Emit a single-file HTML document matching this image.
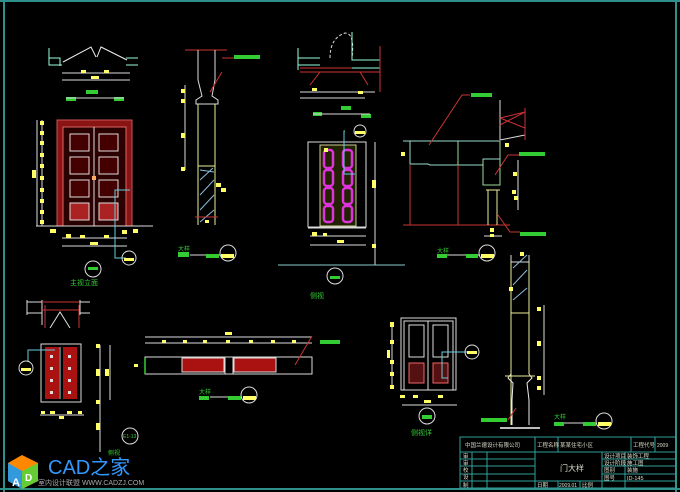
<!DOCTYPE html>
<html><head><meta charset="utf-8"><style>
html,body{margin:0;padding:0;background:#000;}
svg{display:block;}
text{font-family:"Liberation Sans","Noto Sans CJK SC",sans-serif;}
</style></head><body>
<svg width="680" height="492" viewBox="0 0 680 492" xmlns="http://www.w3.org/2000/svg">
<rect width="680" height="492" fill="#000"/>
<g fill="none" stroke="#2f8f8a" stroke-width="2">
<line x1="0" y1="1" x2="680" y2="1"/>
<line x1="4" y1="0" x2="4" y2="492"/>
<line x1="676" y1="0" x2="676" y2="492"/>
<line x1="0" y1="489" x2="680" y2="489"/>
</g>

<g fill="none" stroke-width="1">
<path d="M49,48 V65 H62 M49,58 H60 V66" stroke="#9fd"/>
<path d="M63,62 L91,47 L96,57 M97,57 L101,47 L127,60" stroke="#eee"/>
<path d="M126,58 H138 M126,65 H138" stroke="#9fd"/>
<line x1="62" y1="73" x2="130" y2="73" stroke="#ddd"/>
<line x1="62" y1="80" x2="130" y2="80" stroke="#ddd"/>
</g>
<g fill="#ff6">
<rect x="81" y="70" width="5" height="3"/><rect x="104" y="70" width="5" height="3"/><rect x="91" y="76" width="8" height="3"/>
</g>
<rect x="86" y="90" width="12" height="4" fill="#3c3"/>
<rect x="66" y="97" width="10" height="4" fill="#3c3"/><rect x="114" y="97" width="10" height="4" fill="#3c3"/>
<line x1="66" y1="98" x2="124" y2="98" stroke="#ddd"/>

<rect x="57" y="120" width="75" height="106" fill="#8a1414" stroke="#c55"/>
<rect x="63" y="127" width="63" height="99" fill="#2a0000" stroke="#d66"/>
<g fill="#400" stroke="#ddd" stroke-width="1">
<rect x="70" y="134" width="19" height="17"/><rect x="99" y="134" width="19" height="17"/>
<rect x="70" y="157" width="19" height="17"/><rect x="99" y="157" width="19" height="17"/>
<rect x="70" y="180" width="19" height="17"/><rect x="99" y="180" width="19" height="17"/>
<rect x="70" y="203" width="19" height="17" fill="#a22"/><rect x="99" y="203" width="19" height="17" fill="#a22"/>
</g>
<line x1="94" y1="127" x2="94" y2="226" stroke="#ddd"/>
<rect x="92" y="176" width="4" height="4" fill="#fa6"/>
<g fill="none" stroke="#ddd">
<line x1="37" y1="120" x2="37" y2="226"/><line x1="42" y1="120" x2="42" y2="226"/>
<line x1="36" y1="226" x2="153" y2="226"/>
<line x1="62" y1="238" x2="127" y2="238"/><line x1="62" y1="246" x2="127" y2="246"/>
</g>
<g fill="#ff6">
<rect x="40" y="121" width="4" height="4"/><rect x="40" y="131" width="4" height="4"/><rect x="40" y="141" width="4" height="4"/><rect x="40" y="153" width="4" height="4"/><rect x="40" y="164" width="4" height="4"/><rect x="40" y="176" width="4" height="4"/><rect x="40" y="188" width="4" height="4"/><rect x="40" y="199" width="4" height="4"/><rect x="40" y="210" width="4" height="4"/><rect x="40" y="220" width="4" height="4"/>
<rect x="32" y="170" width="4" height="8"/>
<rect x="50" y="229" width="6" height="4"/><rect x="66" y="234" width="5" height="4"/><rect x="80" y="235" width="5" height="3"/><rect x="104" y="235" width="5" height="3"/><rect x="122" y="230" width="5" height="4"/><rect x="133" y="229" width="5" height="4"/>
<rect x="90" y="242" width="8" height="3"/>
</g>
<path d="M130,190 H115 V258 H126" fill="none" stroke="#6cd"/>
<circle cx="129" cy="258" r="7" fill="none" stroke="#ddd"/>
<rect x="124" y="258" width="10" height="3" fill="#ff6"/>
<circle cx="93" cy="269" r="8" fill="none" stroke="#ddd"/>
<rect x="88" y="267" width="10" height="3" fill="#3c3"/>
<text x="70" y="285" font-size="7" fill="#3c3">主视立面</text>

<g fill="none" stroke-width="1">
<line x1="185" y1="50" x2="227" y2="50" stroke="#c33"/>
<path d="M198,50 V80 L202,96 L196,100 V104 H218 V100 L212,96 L215,80 V50" stroke="#ddd"/>
<path d="M198,104 V225 M215,104 V225" stroke="#ee9"/>
<line x1="198" y1="166" x2="215" y2="166" stroke="#ee9"/>
<path d="M200,170 L214,172 M200,180 L213,168 M200,195 L214,180 M200,210 L214,195 M200,222 L214,210" stroke="#8bd"/>
<line x1="195" y1="217" x2="218" y2="217" stroke="#c33"/>
<line x1="185" y1="85" x2="185" y2="170" stroke="#ddd"/>
<path d="M222,72 L210,92" stroke="#c33"/>
<line x1="222" y1="58" x2="235" y2="58" stroke="#c33"/>
</g>
<rect x="234" y="55" width="26" height="4" fill="#3c3"/>
<g fill="#ff6"><rect x="181" y="89" width="4" height="4"/><rect x="181" y="99" width="4" height="4"/><rect x="181" y="133" width="4" height="5"/><rect x="181" y="167" width="4" height="4"/><rect x="216" y="183" width="5" height="4"/><rect x="221" y="188" width="5" height="4"/><rect x="205" y="220" width="4" height="3"/></g>
<circle cx="228" cy="253" r="8" fill="none" stroke="#ddd"/>
<rect x="221" y="254" width="13" height="4" fill="#ff6"/>
<line x1="190" y1="255" x2="220" y2="255" stroke="#ddd"/>
<rect x="178" y="252" width="11" height="5" fill="#3c3"/><rect x="206" y="254" width="13" height="4" fill="#3c3"/>
<text x="178" y="251" font-size="6" fill="#3c3">大样</text>

<g fill="none" stroke-width="1">
<path d="M330,58 Q330,38 345,33 Q355,33 352,58" stroke="#ddd" stroke-dasharray="3,2"/>
<path d="M298,48 V70 M298,58 H320 M298,65 H320" stroke="#9fd"/>
<path d="M300,68 H380 M300,72 H380" stroke="#c33"/>
<path d="M310,85 L320,72 M368,85 L360,72" stroke="#c33"/>
<path d="M352,32 V60 H380 M352,68 H380" stroke="#9fd"/>
<line x1="380" y1="46" x2="380" y2="92" stroke="#c33"/>
<line x1="300" y1="92" x2="375" y2="92" stroke="#ddd"/>
<line x1="300" y1="98" x2="365" y2="98" stroke="#ddd"/>
</g>
<rect x="312" y="88" width="5" height="3" fill="#ff6"/><rect x="358" y="91" width="5" height="3" fill="#ff6"/>
<rect x="313" y="112" width="9" height="4" fill="#3c3"/><rect x="341" y="106" width="10" height="4" fill="#3c3"/><rect x="361" y="114" width="10" height="4" fill="#3c3"/>
<line x1="313" y1="114" x2="370" y2="114" stroke="#ddd"/>
<circle cx="360" cy="131" r="6" fill="none" stroke="#ddd"/><rect x="355" y="131" width="10" height="3" fill="#ff6"/>
<rect x="308" y="142" width="58" height="85" fill="none" stroke="#ddd"/>
<rect x="320" y="145" width="36" height="81" fill="#220" stroke="#cc9"/>
<g fill="none" stroke="#d3d" stroke-width="2.5">
<rect x="324" y="150" width="9" height="18" rx="3"/><rect x="343" y="150" width="9" height="18" rx="3"/>
<rect x="324" y="170" width="9" height="16" rx="3"/><rect x="343" y="170" width="9" height="16" rx="3"/>
<rect x="324" y="188" width="9" height="16" rx="3"/><rect x="343" y="188" width="9" height="16" rx="3"/>
<rect x="324" y="206" width="9" height="16" rx="3"/><rect x="343" y="206" width="9" height="16" rx="3"/>
</g>
<path d="M345,131 H344 V174 H355" fill="none" stroke="#6cd"/>
<line x1="375" y1="142" x2="375" y2="265" stroke="#ddd"/>
<line x1="308" y1="228" x2="366" y2="228" stroke="#ddd"/>
<line x1="310" y1="236" x2="366" y2="236" stroke="#ddd"/>
<line x1="310" y1="245" x2="366" y2="245" stroke="#ddd"/>
<g fill="#ff6"><rect x="312" y="232" width="5" height="4"/><rect x="323" y="233" width="4" height="3"/><rect x="337" y="240" width="7" height="3"/><rect x="372" y="180" width="4" height="8"/><rect x="372" y="244" width="4" height="4"/><rect x="324" y="148" width="4" height="4"/></g>
<line x1="278" y1="265" x2="405" y2="265" stroke="#8cc"/>
<circle cx="335" cy="276" r="8" fill="none" stroke="#ddd"/>
<rect x="330" y="276" width="10" height="3" fill="#3c3"/>
<text x="310" y="298" font-size="7" fill="#3c3">侧视</text>

<g fill="none" stroke-width="1">
<path d="M403,141 H500 M410,141 V164 H428 L430,165 H483 V159 H500" stroke="#9dc"/>
<path d="M458,141 V165" stroke="#9d9"/>
<path d="M483,160 V185 H500 V141" stroke="#9d9"/>
<path d="M410,165 V225 M458,165 V225 M403,225 H510" stroke="#c33"/>
<path d="M488,190 V225 M497,190 V225 M486,190 H500" stroke="#ee9"/>
<path d="M429,145 L462,95 H470" stroke="#c33"/>
<path d="M500,100 V140 M500,140 L525,135" stroke="#ddd"/>
<path d="M500,125 L525,112 L500,118 L525,128" stroke="#c33"/>
<line x1="525" y1="108" x2="525" y2="140" stroke="#c33"/>
<path d="M495,175 L508,155 H520" stroke="#c33"/>
<path d="M498,215 L510,232 H520" stroke="#c33"/>
<line x1="518" y1="160" x2="518" y2="210" stroke="#ddd"/>
<path d="M484,236 H502" stroke="#ddd"/>
</g>
<rect x="471" y="93" width="21" height="4" fill="#3c3"/>
<rect x="519" y="152" width="26" height="4" fill="#3c3"/>
<rect x="520" y="232" width="26" height="4" fill="#3c3"/>
<g fill="#ff6"><rect x="401" y="152" width="4" height="4"/><rect x="513" y="172" width="4" height="4"/><rect x="512" y="190" width="4" height="4"/><rect x="514" y="196" width="4" height="4"/><rect x="490" y="228" width="4" height="4"/><rect x="490" y="234" width="4" height="3"/><rect x="505" y="143" width="4" height="4"/></g>
<circle cx="487" cy="253" r="8" fill="none" stroke="#ddd"/>
<rect x="481" y="254" width="13" height="4" fill="#ff6"/>
<line x1="438" y1="255" x2="480" y2="255" stroke="#ddd"/>
<rect x="437" y="254" width="10" height="4" fill="#3c3"/><rect x="466" y="254" width="12" height="4" fill="#3c3"/>
<text x="437" y="253" font-size="6" fill="#3c3">大样</text>

<g fill="none" stroke-width="1">
<path d="M27,300 V315 M27,302 H42 M27,313 H42 V300 M42,300 V325" stroke="#ddd"/>
<path d="M42,302 H80 M42,310 H80" stroke="#c33"/>
<path d="M45,305 V328 M79,305 V328" stroke="#c33"/>
<path d="M50,328 L60,312 L70,328" stroke="#ddd"/>
<path d="M80,300 V315 M80,302 H90 M80,313 H90" stroke="#ddd"/>
</g>
<rect x="41" y="344" width="40" height="58" fill="none" stroke="#ddd"/>
<rect x="45" y="347" width="14" height="52" fill="#a11"/><rect x="63" y="347" width="14" height="52" fill="#a11"/>
<line x1="60" y1="347" x2="60" y2="399" stroke="#9dd"/>
<g fill="#ddd"><rect x="50" y="355" width="3" height="3"/><rect x="50" y="367" width="3" height="3"/><rect x="50" y="379" width="3" height="3"/><rect x="50" y="391" width="3" height="3"/><rect x="68" y="355" width="3" height="3"/><rect x="68" y="367" width="3" height="3"/><rect x="68" y="379" width="3" height="3"/><rect x="68" y="391" width="3" height="3"/></g>
<path d="M55,350 H28 V362" fill="none" stroke="#6cd"/>
<circle cx="26" cy="368" r="7" fill="none" stroke="#ddd"/><rect x="21" y="368" width="10" height="3" fill="#ff6"/>
<line x1="40" y1="415" x2="84" y2="415" stroke="#ddd"/>
<g fill="#ff6"><rect x="41" y="411" width="4" height="3"/><rect x="50" y="411" width="5" height="3"/><rect x="59" y="416" width="5" height="3"/><rect x="67" y="411" width="5" height="3"/><rect x="78" y="411" width="4" height="3"/></g>
<g fill="none" stroke="#ddd"><line x1="100" y1="345" x2="100" y2="452"/><line x1="110" y1="345" x2="110" y2="400"/></g>
<g fill="#ff6"><rect x="96" y="344" width="4" height="4"/><rect x="96" y="369" width="4" height="7"/><rect x="105" y="369" width="4" height="7"/><rect x="96" y="400" width="4" height="4"/><rect x="96" y="423" width="4" height="7"/></g>
<circle cx="130" cy="436" r="8" fill="none" stroke="#ddd"/>
<text x="123" y="438" font-size="5" fill="#3c3">E1-13</text>
<text x="108" y="455" font-size="6" fill="#3c3">侧视</text>

<g fill="none" stroke="#ddd">
<line x1="145" y1="337" x2="312" y2="337"/><line x1="145" y1="343" x2="312" y2="343"/>
<rect x="145" y="357" width="167" height="17"/>
</g>
<rect x="182" y="358" width="42" height="14" fill="#a11" stroke="#ddd"/>
<rect x="234" y="358" width="42" height="14" fill="#a11" stroke="#ddd"/>
<line x1="225" y1="357" x2="225" y2="374" stroke="#ddd"/><line x1="233" y1="357" x2="233" y2="374" stroke="#ddd"/>
<line x1="145" y1="358" x2="145" y2="374" stroke="#3c3" stroke-width="1.5"/>
<line x1="295" y1="365" x2="312" y2="336" stroke="#c33"/>
<rect x="320" y="340" width="20" height="4" fill="#3c3"/>
<g fill="#ff6"><rect x="225" y="332" width="7" height="3"/><rect x="162" y="340" width="4" height="3"/><rect x="183" y="340" width="4" height="3"/><rect x="203" y="340" width="4" height="3"/><rect x="226" y="340" width="4" height="3"/><rect x="249" y="340" width="4" height="3"/><rect x="271" y="340" width="4" height="3"/><rect x="292" y="340" width="4" height="3"/><rect x="134" y="364" width="4" height="3"/></g>
<circle cx="249" cy="395" r="8" fill="none" stroke="#ddd"/><rect x="243" y="396" width="13" height="4" fill="#ff6"/>
<line x1="210" y1="397" x2="242" y2="397" stroke="#ddd"/>
<rect x="199" y="396" width="10" height="4" fill="#3c3"/><rect x="228" y="396" width="13" height="4" fill="#3c3"/>
<text x="199" y="394" font-size="6" fill="#3c3">大样</text>

<rect x="401" y="318" width="55" height="72" fill="none" stroke="#ddd"/>
<rect x="404" y="321" width="49" height="69" fill="none" stroke="#ddd"/>
<line x1="428" y1="321" x2="428" y2="390" stroke="#ddd"/>
<rect x="409" y="325" width="15" height="32" fill="none" stroke="#ddd"/><rect x="433" y="325" width="15" height="32" fill="none" stroke="#ddd"/>
<rect x="409" y="363" width="15" height="20" fill="#511" stroke="#e66"/><rect x="433" y="363" width="15" height="20" fill="#511" stroke="#e66"/>
<path d="M445,352 H442 V378 H448" fill="none" stroke="#6cd"/>
<line x1="442" y1="352" x2="470" y2="352" stroke="#6cd"/>
<circle cx="472" cy="352" r="7" fill="none" stroke="#ddd"/><rect x="467" y="351" width="10" height="3" fill="#ff6"/>
<line x1="392" y1="322" x2="392" y2="388" stroke="#ddd"/>
<g fill="#ff6"><rect x="390" y="322" width="4" height="5"/><rect x="390" y="340" width="4" height="4"/><rect x="387" y="350" width="3" height="8"/><rect x="390" y="360" width="4" height="4"/><rect x="390" y="372" width="4" height="4"/><rect x="390" y="385" width="4" height="4"/><rect x="400" y="395" width="5" height="3"/><rect x="413" y="395" width="5" height="3"/><rect x="438" y="395" width="5" height="3"/><rect x="424" y="400" width="7" height="3"/></g>
<line x1="402" y1="405" x2="457" y2="405" stroke="#ddd"/>
<circle cx="427" cy="416" r="8" fill="none" stroke="#ddd"/><rect x="422" y="415" width="10" height="4" fill="#3c3"/>
<text x="411" y="435" font-size="7" fill="#3c3">侧视详</text>

<g fill="none" stroke-width="1">
<path d="M511,262 V425 M529,262 V374" stroke="#ee9"/>
<path d="M511,255 V262 H529 V255" stroke="#ddd"/>
<path d="M513,268 L527,255 M513,285 L527,270 M513,300 L527,288" stroke="#8bd"/>
<line x1="511" y1="313" x2="529" y2="313" stroke="#ee9"/>
<path d="M511,374 L508,378 L513,383 L512,400 V425 M529,374 L532,378 L527,383 L529,400 V425" stroke="#eee"/>
<path d="M505,376 H535" stroke="#ee9"/>
<line x1="500" y1="428" x2="540" y2="428" stroke="#bbb" stroke-width="2"/>
<line x1="544" y1="305" x2="544" y2="395" stroke="#ddd"/>
<path d="M508,420 L516,408" stroke="#c33"/>
</g>
<g fill="#ff6"><rect x="537" y="307" width="4" height="4"/><rect x="537" y="341" width="4" height="5"/><rect x="537" y="376" width="4" height="4"/><rect x="537" y="386" width="4" height="4"/><rect x="509" y="287" width="4" height="4"/><rect x="520" y="252" width="4" height="4"/></g>
<rect x="481" y="418" width="26" height="4" fill="#3c3"/>
<circle cx="604" cy="421" r="8" fill="none" stroke="#ddd"/><rect x="598" y="422" width="13" height="4" fill="#ff6"/>
<line x1="555" y1="423" x2="597" y2="423" stroke="#ddd"/>
<rect x="554" y="422" width="10" height="4" fill="#3c3"/><rect x="583" y="422" width="13" height="4" fill="#3c3"/>
<text x="554" y="419" font-size="6" fill="#3c3">大样</text>

<g fill="none" stroke="#2f9f9a" stroke-width="1">
<rect x="460" y="437" width="216" height="51"/>
<line x1="460" y1="452" x2="676" y2="452"/>
<line x1="460" y1="459" x2="535" y2="459"/><line x1="460" y1="466" x2="535" y2="466"/><line x1="460" y1="474" x2="535" y2="474"/><line x1="460" y1="481" x2="676" y2="481"/>
<line x1="602" y1="459" x2="676" y2="459"/><line x1="602" y1="466" x2="676" y2="466"/><line x1="602" y1="474" x2="676" y2="474"/>
<line x1="472" y1="452" x2="472" y2="488"/>
<line x1="487" y1="452" x2="487" y2="488"/>
<line x1="535" y1="437" x2="535" y2="488"/>
<line x1="558" y1="437" x2="558" y2="452"/>
<line x1="631" y1="437" x2="631" y2="452"/>
<line x1="655" y1="437" x2="655" y2="452"/>
<line x1="602" y1="452" x2="602" y2="488"/>
<line x1="625" y1="452" x2="625" y2="488"/>
<line x1="558" y1="481" x2="558" y2="488"/><line x1="580" y1="481" x2="580" y2="488"/>
</g>
<g font-size="5.5" fill="#ddc">
<text x="465" y="447">中国兰德设计有限公司</text>
<text x="537" y="447">工程名称</text><text x="560" y="447">某某住宅小区</text>
<text x="633" y="447">工程代号</text><text x="657" y="447" font-size="5">2009</text>
<text x="463" y="458">审</text><text x="463" y="465">审</text><text x="463" y="472">校</text><text x="463" y="479">设</text><text x="463" y="487">制</text>
<text x="560" y="471" font-size="8">门大样</text>
<text x="604" y="458">设计项目</text><text x="627" y="458">装饰工程</text>
<text x="604" y="465">设计阶段</text><text x="627" y="465">施工图</text>
<text x="604" y="472">图别</text><text x="627" y="472">装施</text>
<text x="604" y="480">图号</text><text x="627" y="480">ID-145</text>
<text x="537" y="487">日期</text><text x="559" y="487" font-size="5">2009.01</text><text x="582" y="487">比例</text>
</g>

<g>
<polygon points="8,463 22,455 38,463 38,481 22,489 8,481" fill="#f80"/>
<polygon points="8,463 22,471 22,489 8,481" fill="#39d"/>
<polygon points="22,471 38,463 38,481 22,489" fill="#6c3"/>
<text x="12" y="486" font-size="11" fill="#fff" font-weight="bold">A</text>
<text x="25" y="481" font-size="10" fill="#fff" font-weight="bold">D</text>
<text x="48" y="474" font-size="20" fill="#39f">CAD之家</text>
<text x="38" y="485" font-size="7" fill="#aaa">室内设计联盟 WWW.CADZJ.COM</text>
</g>
</svg>
</body></html>
